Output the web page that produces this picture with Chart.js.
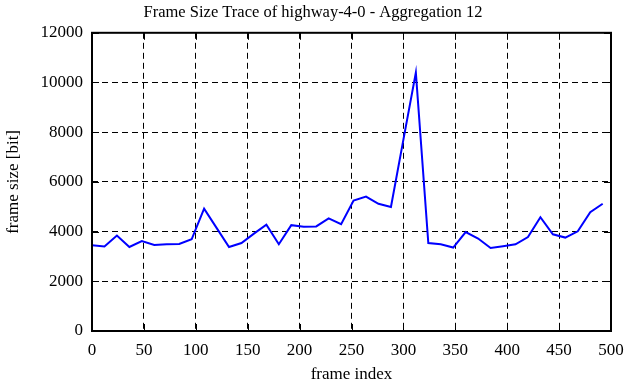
<!DOCTYPE html>
<html><head><meta charset="utf-8">
<script src="https://cdn.jsdelivr.net/npm/chart.js@4/dist/chart.umd.min.js"></script>
<style>html,body{margin:0;padding:0;background:#fff;}canvas{display:block;}</style>
</head><body>
<canvas id="c" width="626" height="382"></canvas>
<script>
const frameIndex = [0,12,24,36,48,60,72,84,96,108,120,132,144,156,168,180,192,204,216,228,240,252,264,276,288,300,312,324,336,348,360,372,384,396,408,420,432,444,456,468,480,492];
const frameSize = [3450,3400,3840,3380,3620,3460,3490,3500,3690,4920,4150,3380,3540,3920,4280,3490,4260,4200,4210,4530,4300,5250,5410,5120,4990,7700,10400,3540,3490,3360,3980,3720,3340,3410,3490,3780,4580,3890,3760,4010,4780,5120];
const xTicks = [0,50,100,150,200,250,300,350,400,450,500];
const yTicks = [0,2000,4000,6000,8000,10000,12000];
const titleText = 'Frame Size Trace of highway-4-0 - Aggregation 12';
const xTitle = 'frame index';
const yTitle = 'frame size [bit]';

const FONT = 'Liberation Serif';
const boxPlugin = {
  id: 'box',
  afterDraw(chart) {
    const ctx = chart.ctx, a = chart.chartArea;
    const xs = chart.scales.x, ys = chart.scales.y;
    ctx.save();
    ctx.strokeStyle = '#000';
    ctx.lineWidth = 1;
    ctx.setLineDash([]);
    const L = 7;
    ctx.beginPath();
    xTicks.forEach(v => {
      const px = Math.round(xs.getPixelForValue(v)) + 0.5;
      ctx.moveTo(px, a.bottom); ctx.lineTo(px, a.bottom - L);
      ctx.moveTo(px, a.top); ctx.lineTo(px, a.top + L);
    });
    yTicks.forEach(v => {
      const py = Math.round(ys.getPixelForValue(v)) + 0.5;
      ctx.moveTo(a.left, py); ctx.lineTo(a.left + L, py);
      ctx.moveTo(a.right, py); ctx.lineTo(a.right - L, py);
    });
    ctx.stroke();
    ctx.lineWidth = 2;
    ctx.strokeRect(a.left, a.top, a.right - a.left, a.bottom - a.top);
    ctx.restore();
  }
};

new Chart(document.getElementById('c'), {
  type: 'line',
  data: {
    datasets: [{
      data: frameIndex.map((x, i) => ({x: x, y: frameSize[i]})),
      borderColor: '#0000ff',
      borderWidth: 2,
      pointRadius: 0,
      tension: 0,
      fill: false
    }]
  },
  options: {
    responsive: false,
    animation: false,
    devicePixelRatio: 1,
    layout: {padding: {left: 0, right: 0, top: 0, bottom: 0}},
    plugins: {
      legend: {display: false},
      tooltip: {enabled: false},
      title: {display: true, text: titleText, color: '#000',
        font: {family: FONT, size: 16.5, weight: 'normal'}, padding: {top: 3, bottom: 10}}
    },
    scales: {
      x: {
        type: 'linear', min: 0, max: 500,
        afterFit(s) { s.height = 51; s.paddingLeft = 0; s.paddingRight = 15; },
        afterBuildTicks(s) { s.ticks = xTicks.map(v => ({value: v})); },
        grid: {color: '#000', lineWidth: 1, drawTicks: false},
        border: {display: false, dash: [6, 4]},
        ticks: {color: '#000', font: {family: FONT, size: 17}, padding: 9, maxRotation: 0, autoSkip: false,
          callback: v => String(v)},
        title: {display: true, text: xTitle, color: '#000', font: {family: FONT, size: 17, lineHeight: 0.9}, padding: {top: 0, bottom: 0}}
      },
      y: {
        min: 0, max: 12000,
        afterFit(s) { s.width = 92; s.paddingTop = 0; s.paddingBottom = 0; },
        afterBuildTicks(s) { s.ticks = yTicks.map(v => ({value: v})); },
        grid: {color: '#000', lineWidth: 1, drawTicks: false},
        border: {display: false, dash: [6, 4]},
        ticks: {color: '#000', font: {family: FONT, size: 17}, padding: 9, autoSkip: false,
          callback: v => String(v)},
        title: {display: true, text: yTitle, color: '#000', font: {family: FONT, size: 17}, padding: {top: 3, bottom: 0}}
      }
    }
  },
  plugins: [boxPlugin]
});
</script>
</body></html>
